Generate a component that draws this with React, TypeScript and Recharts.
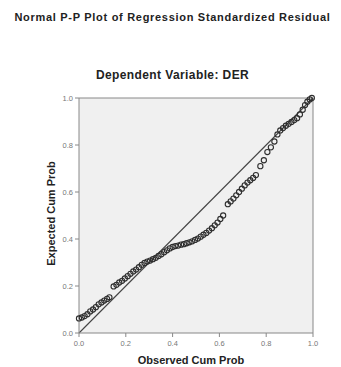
import React from 'react';
import { ScatterChart, Scatter, XAxis, YAxis, CartesianGrid, ReferenceLine, Label } from 'recharts';

const observed = [
  0.0, 0.012, 0.024, 0.036, 0.048, 0.06, 0.072, 0.084, 0.096, 0.108, 0.12, 0.13,
  0.148, 0.16, 0.172, 0.184, 0.196, 0.208, 0.22, 0.232, 0.244, 0.256, 0.268, 0.28, 0.292, 0.304,
  0.316, 0.328, 0.34, 0.352, 0.364, 0.376, 0.388, 0.4, 0.412, 0.424, 0.436, 0.448, 0.46, 0.472,
  0.484, 0.496, 0.508, 0.52, 0.532, 0.544, 0.556, 0.568, 0.58, 0.592, 0.604, 0.616,
  0.636, 0.648, 0.66, 0.672, 0.684, 0.696, 0.708, 0.72, 0.732, 0.744, 0.756,
  0.775, 0.79, 0.805, 0.82, 0.835, 0.848, 0.86, 0.872, 0.884, 0.896, 0.908, 0.92, 0.932,
  0.944, 0.956, 0.966, 0.976, 0.986, 0.995,
];
const expected = [
  0.062, 0.066, 0.072, 0.08, 0.092, 0.1, 0.11, 0.122, 0.13, 0.138, 0.145, 0.152,
  0.198, 0.205, 0.215, 0.222, 0.232, 0.242, 0.252, 0.262, 0.27, 0.28, 0.29, 0.298, 0.304, 0.308,
  0.314, 0.32, 0.328, 0.335, 0.344, 0.352, 0.36, 0.366, 0.37, 0.372, 0.376, 0.378, 0.382, 0.386,
  0.39, 0.396, 0.402, 0.41, 0.418, 0.426, 0.436, 0.446, 0.458, 0.47, 0.485, 0.5,
  0.548, 0.56, 0.572, 0.586, 0.6, 0.614, 0.628, 0.64, 0.65, 0.66, 0.672,
  0.71, 0.735, 0.77, 0.79, 0.815, 0.845, 0.862, 0.872, 0.882, 0.89, 0.898, 0.906, 0.914,
  0.93, 0.95, 0.97, 0.984, 0.994, 1.0,
];
const ticks = [0, 0.2, 0.4, 0.6, 0.8, 1.0];
const titleText = 'Normal P-P Plot of Regression Standardized Residual';
const subtitleText = 'Dependent Variable: DER';
const xLabel = 'Observed Cum Prob';
const yLabel = 'Expected Cum Prob';

const data = observed.map((x, i) => ({ x, y: expected[i] }));

const font = 'Arial, "Liberation Sans", sans-serif';

const Ring = (props: any) => (
  <circle cx={props.cx} cy={props.cy} r={2.6} fill="none" stroke="#2e2e2e" strokeWidth={1.1} />
);

export default function App() {
  return (
    <div style={{ position: 'absolute', left: 0, top: 0, width: 341, height: 367, background: '#fff', fontFamily: font }}>
      <div style={{ position: 'absolute', left: 2, width: 341, top: 11, textAlign: 'center', fontSize: 11, fontWeight: 'bold', color: '#222', letterSpacing: 0.7, whiteSpace: 'nowrap' }}>
        {titleText}
      </div>
      <div style={{ position: 'absolute', left: 2, width: 341, top: 68, textAlign: 'center', fontSize: 12, fontWeight: 'bold', color: '#222', letterSpacing: 0.4 }}>
        {subtitleText}
      </div>
      <ScatterChart width={341} height={367} margin={{ top: 98, right: 28, bottom: 14, left: 49 }}>
        <CartesianGrid fill="#f0f0f0" horizontal={false} vertical={false} />
        <XAxis
          type="number"
          dataKey="x"
          domain={[0, 1]}
          ticks={ticks}
          tickFormatter={(v: number) => v.toFixed(1)}
          height={20}
          stroke="#888"
          tickSize={4}
          tickMargin={4}
          tick={{ fontSize: 7.5, fill: '#777', fontFamily: font }}
        >
          <Label value={xLabel} position="insideBottom" offset={-11} dx={-5} style={{ fontSize: 11, fontWeight: 'bold', fill: '#222', fontFamily: font }} />
        </XAxis>
        <YAxis
          type="number"
          dataKey="y"
          domain={[0, 1]}
          ticks={ticks}
          tickFormatter={(v: number) => v.toFixed(1)}
          width={30}
          stroke="#888"
          tickSize={4}
          tick={{ fontSize: 7.5, fill: '#777', fontFamily: font }}
        >
          <Label value={yLabel} angle={-90} position="insideLeft" offset={2} dy={-2} style={{ fontSize: 11, fontWeight: 'bold', fill: '#222', fontFamily: font, textAnchor: 'middle' }} />
        </YAxis>
        <ReferenceLine y={1} stroke="#888" />
        <ReferenceLine x={1} stroke="#888" />
        <ReferenceLine segment={[{ x: 0, y: 0 }, { x: 1, y: 1 }]} stroke="#444" strokeWidth={1.1} />
        <Scatter data={data} shape={Ring} isAnimationActive={false} />
      </ScatterChart>
    </div>
  );
}
